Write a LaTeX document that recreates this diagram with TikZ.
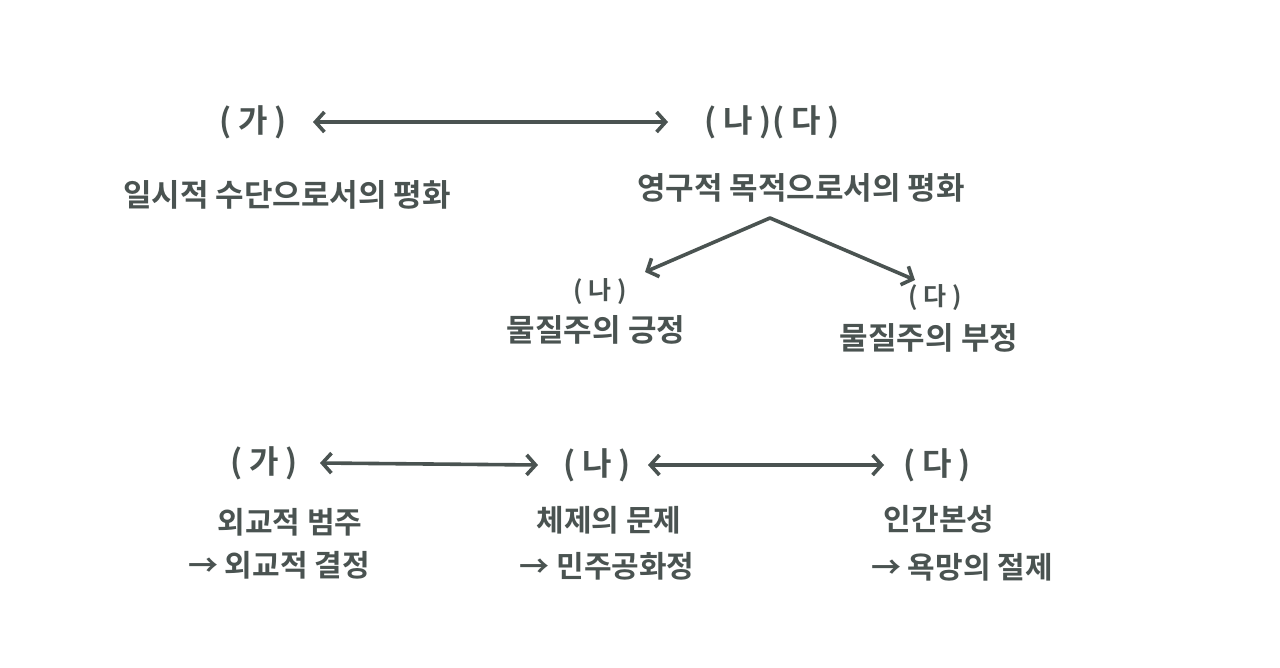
\documentclass[tikz,border=0pt]{standalone}
\usepackage{fontspec}
\newfontfamily\kr{Noto Sans CJK KR Bold}
\usetikzlibrary{arrows.meta}
\definecolor{ink}{HTML}{4A5351}
\newcommand{\ps}{\hspace{0.22em}}
\tikzset{
  lbl/.style={text=ink, font=\kr\fontsize{32}{36}\selectfont, inner sep=0pt},
  slbl/.style={text=ink, font=\kr\fontsize{25}{30}\selectfont, inner sep=0pt},
  txt/.style={text=ink, font=\kr\fontsize{31}{34}\selectfont, inner sep=0pt},
  sml/.style={text=ink, font=\kr\fontsize{30}{34}\selectfont, inner sep=0pt},
  arr/.style={draw=ink, line width=3.6pt, line cap=round, {Straight Barb[length=9pt,width=20pt,line width=3.6pt]}-{Straight Barb[length=9pt,width=20pt,line width=3.6pt]}},
  one/.style={draw=ink, line width=3.6pt, line cap=round, -{Straight Barb[length=9pt,width=20pt,line width=3.6pt]}}
}
\begin{document}
\begin{tikzpicture}[x=1pt,y=-1pt]
\useasboundingbox[fill=white] (0,0) rectangle (1280,667);
% top row
\node[lbl] (ga1) at (253,122) {(\ps 가\ps)};
\node[lbl] (nada) at (772,122) {(\ps 나\ps)(\ps 다\ps)};
\node[txt] (temp) at (287,195) {일시적 수단으로서의 평화};
\node[txt] (perm) at (801,188) {영구적 목적으로서의 평화};
\draw[arr] ([xshift=60pt]ga1.center) -- ([xshift=-104pt]nada.center);
% branches
\coordinate (apex) at (770,218);
\coordinate (tipL) at (645,272);
\coordinate (tipR) at (915,280);
\node[slbl] (na2) at (600,292) {(\ps 나\ps)};
\node[txt] (pos) at (596,330) {물질주의 긍정};
\node[slbl] (da2) at (935,298) {(\ps 다\ps)};
\node[txt] (neg) at (929,338) {물질주의 부정};
\draw[one] (apex) -- (tipL);
\draw[one] (apex) -- (tipR);
% bottom row
\node[lbl] (ga3) at (264,463) {(\ps 가\ps)};
\node[lbl] (na3) at (597,465) {(\ps 나\ps)};
\node[lbl] (da3) at (937,465) {(\ps 다\ps)};
\draw[arr] ([xshift=56pt]ga3.center) -- ([xshift=-59pt]na3.center);
\draw[arr] ([xshift=51pt]na3.center) -- ([xshift=-53pt]da3.center);
\node[sml] (dip1) at (290,522) {외교적 범주};
\node[sml] (dip2) at (279,565) {→ 외교적 결정};
\node[sml] (reg1) at (609,520) {체제의 문제};
\node[sml] (reg2) at (607,566) {→ 민주공화정};
\node[sml] (hum1) at (939,519) {인간본성};
\node[sml] (hum2) at (962,567) {→ 욕망의 절제};
\end{tikzpicture}
\end{document}
